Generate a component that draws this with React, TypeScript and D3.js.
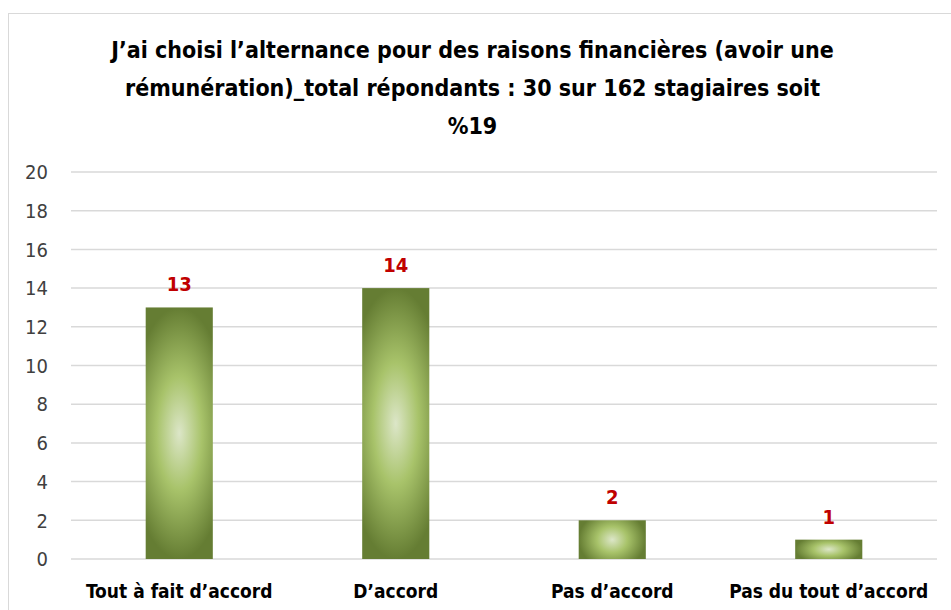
import * as d3 from "d3";
import React, { useRef, useEffect } from "react";

const categories = ["Tout à fait d’accord", "D’accord", "Pas d’accord", "Pas du tout d’accord"];
const values = [13, 14, 2, 1];
const yTicks = [0, 2, 4, 6, 8, 10, 12, 14, 16, 18, 20];
const titleLines = [
  "J’ai choisi l’alternance pour des raisons financières (avoir une",
  "rémunération)_total répondants : 30 sur 162  stagiaires soit",
  "%19",
];

const W = 951;
const H = 610;
const font = "'Liberation Sans Narrow', 'DejaVu Sans Condensed', 'Liberation Sans', sans-serif";

export default function App() {
  const ref = useRef<SVGSVGElement>(null);

  useEffect(() => {
    const svg = d3.select(ref.current);
    svg.selectAll("*").remove();

    const left = 71;
    const right = 937;
    const top = 172;
    const bottom = 559;

    svg
      .append("rect")
      .attr("x", 8.5)
      .attr("y", 13.5)
      .attr("width", 960)
      .attr("height", 620)
      .attr("fill", "#fff")
      .attr("stroke", "#d9d9d9");

    const x = d3
      .scaleBand()
      .domain(categories)
      .range([left, right])
      .paddingInner(0.69)
      .paddingOuter(0.345);

    const y = d3.scaleLinear().domain([0, 20]).range([bottom, top]);

    // title
    svg
      .append("g")
      .selectAll("text")
      .data(titleLines)
      .enter()
      .append("text")
      .attr("x", W / 2 - 3)
      .attr("y", (d, i) => 58 + i * 38)
      .attr("text-anchor", "middle")
      .attr("font-family", font)
      .attr("font-weight", "bold")
      .attr("font-size", 23)
      .attr("fill", "#000")
      .text((d) => d);

    // grid
    svg
      .append("g")
      .selectAll("line")
      .data(yTicks)
      .enter()
      .append("line")
      .attr("x1", left)
      .attr("x2", right)
      .attr("y1", (d) => y(d))
      .attr("y2", (d) => y(d))
      .attr("stroke", "#d9d9d9")
      .attr("stroke-width", 1.5);

    svg
      .append("g")
      .selectAll("text")
      .data(yTicks)
      .enter()
      .append("text")
      .attr("x", 48)
      .attr("y", (d) => y(d))
      .attr("dy", "0.36em")
      .attr("text-anchor", "end")
      .attr("font-family", font)
      .attr("font-size", 20)
      .attr("fill", "#404040")
      .text((d) => d);

    const defs = svg.append("defs");
    values.forEach((v, i) => {
      const w = x.bandwidth();
      const h = y(0) - y(v);
      const tf =
        h > w
          ? "translate(0.5,0.5) scale(1.5,1) translate(-0.5,-0.5)"
          : "translate(0.5,0.5) scale(1,1.5) translate(-0.5,-0.5)";
      const g = defs
        .append("radialGradient")
        .attr("id", "barGrad" + i)
        .attr("cx", 0.5)
        .attr("cy", 0.5)
        .attr("r", 0.5)
        .attr("gradientTransform", tf);
      g.append("stop").attr("offset", 0).attr("stop-color", "#dce6c8");
      g.append("stop").attr("offset", 0.45).attr("stop-color", "#a8c36a");
      g.append("stop").attr("offset", 1).attr("stop-color", "#657d33");
    });

    const bars = svg.append("g");
    bars
      .selectAll("rect")
      .data(values)
      .enter()
      .append("rect")
      .attr("x", (d, i) => x(categories[i])!)
      .attr("y", (d) => y(d))
      .attr("width", x.bandwidth())
      .attr("height", (d) => y(0) - y(d))
      .attr("fill", (d, i) => `url(#barGrad${i})`);

    svg
      .append("g")
      .selectAll("text")
      .data(values)
      .enter()
      .append("text")
      .attr("x", (d, i) => x(categories[i])! + x.bandwidth() / 2)
      .attr("y", (d) => y(d) - 16)
      .attr("text-anchor", "middle")
      .attr("font-family", font)
      .attr("font-weight", "bold")
      .attr("font-size", 20)
      .attr("fill", "#c00000")
      .text((d) => d);

    svg
      .append("g")
      .selectAll("text")
      .data(categories)
      .enter()
      .append("text")
      .attr("x", (d) => x(d)! + x.bandwidth() / 2)
      .attr("y", 598)
      .attr("text-anchor", "middle")
      .attr("font-family", font)
      .attr("font-weight", "bold")
      .attr("font-size", 19)
      .attr("fill", "#000")
      .text((d) => d);
  }, []);

  return (
    <svg
      ref={ref}
      width={W}
      height={H}
      style={{ position: "absolute", left: 0, top: 0, background: "#fff" }}
    ></svg>
  );
}
